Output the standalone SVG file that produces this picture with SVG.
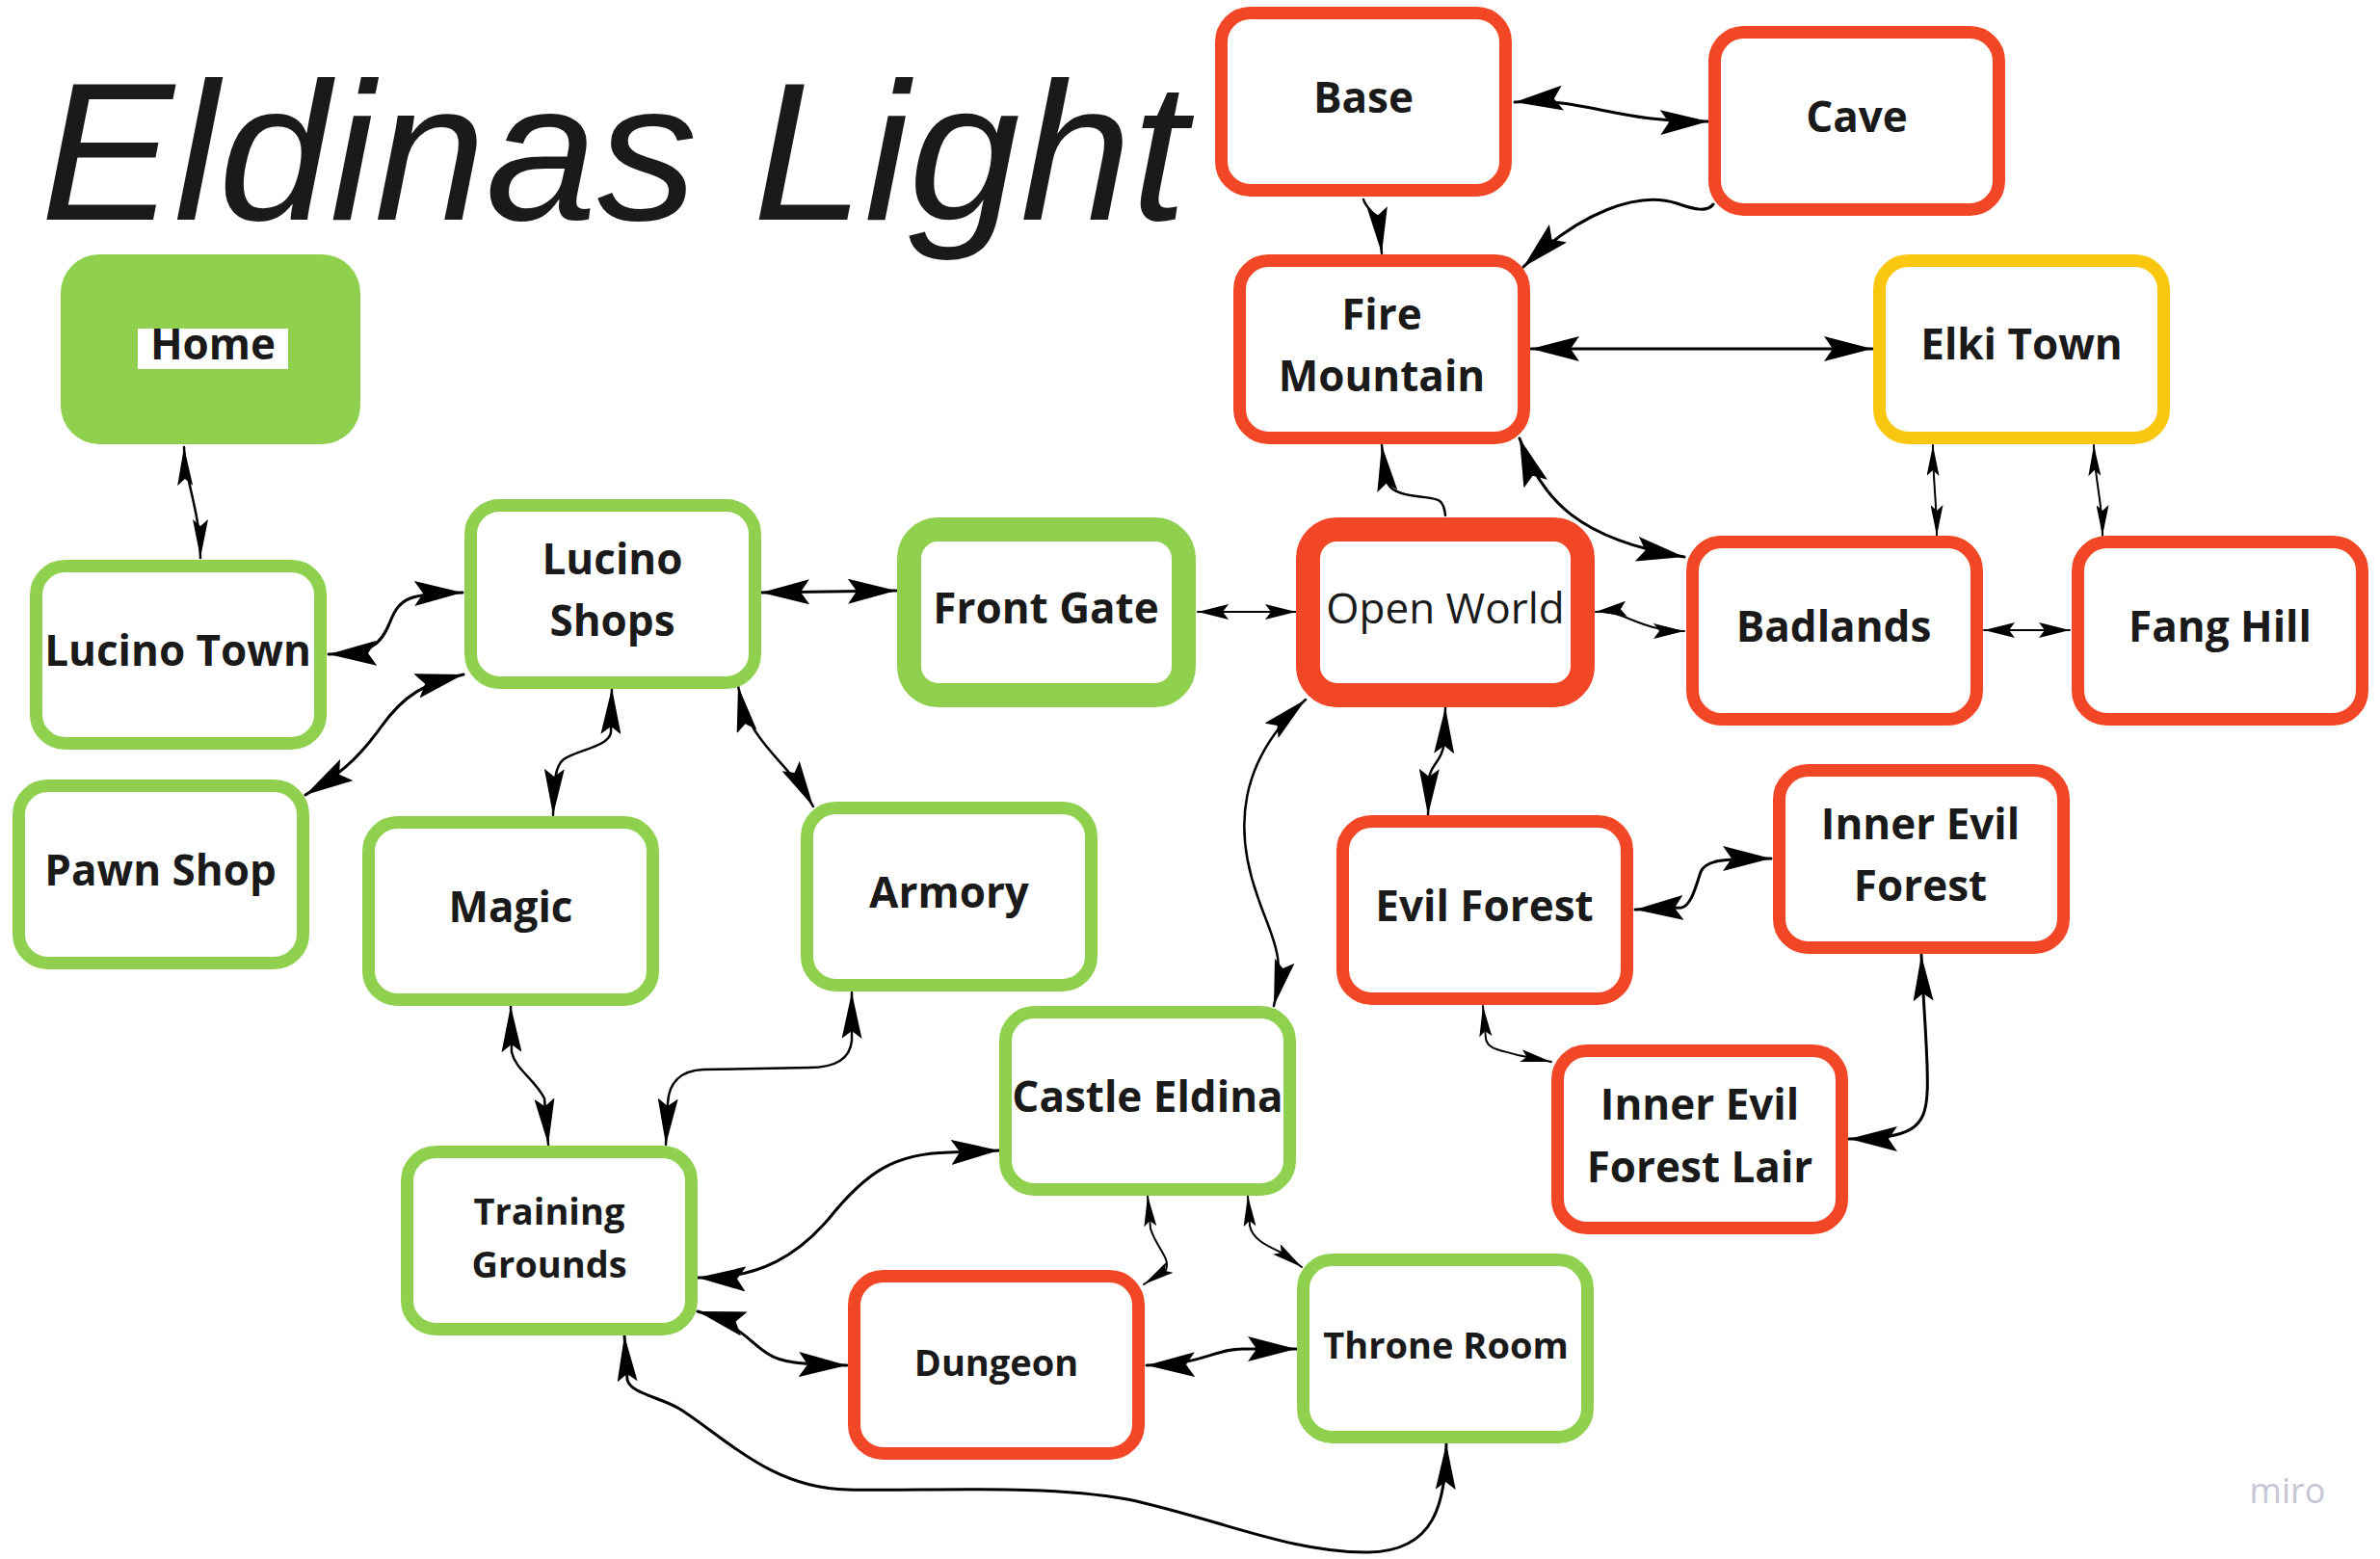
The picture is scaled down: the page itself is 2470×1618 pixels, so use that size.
<svg xmlns="http://www.w3.org/2000/svg" width="2470" height="1618" viewBox="0 0 2470 1618">
<style>
.n rect{fill:#fff;stroke-width:13}
.n.k rect{stroke-width:25}
.g rect{stroke:#8fd14f}
.r rect{stroke:#f24726}
.y rect{stroke:#fac710}
text.t{font-family:"Open Sans","Liberation Sans",sans-serif;font-weight:700;font-size:44px;fill:#1a1a1a;text-anchor:middle}
text.s{font-size:38px}
text.w{font-weight:400}
.c path{fill:none;stroke:#000;stroke-width:3;stroke-linecap:round;stroke-linejoin:round}
.c path.m{stroke-width:2.5}
.c path.f{stroke-width:2}
</style>
<defs>
<marker id="ab" viewBox="-50 -13 50 26" refX="0" refY="0" markerWidth="50" markerHeight="26" markerUnits="userSpaceOnUse" orient="auto-start-reverse"><path d="M0,0 L-50,-13 L-41,0 L-50,13 Z" fill="#000"/></marker>
<marker id="an" viewBox="-48 -10.5 48 21" refX="0" refY="0" markerWidth="48" markerHeight="21" markerUnits="userSpaceOnUse" orient="auto-start-reverse"><path d="M0,0 L-48,-10.5 L-40,0 L-48,10.5 Z" fill="#000"/></marker>
<marker id="an2" viewBox="-40 -8 40 16" refX="0" refY="0" markerWidth="40" markerHeight="16" markerUnits="userSpaceOnUse" orient="auto-start-reverse"><path d="M0,0 L-40,-8 L-33,0 L-40,8 Z" fill="#000"/></marker>
<marker id="am" viewBox="-32 -8 32 16" refX="0" refY="0" markerWidth="32" markerHeight="16" markerUnits="userSpaceOnUse" orient="auto-start-reverse"><path d="M0,0 L-32,-8 L-26,0 L-32,8 Z" fill="#000"/></marker>
<marker id="as" viewBox="-32 -6.5 32 13" refX="0" refY="0" markerWidth="32" markerHeight="13" markerUnits="userSpaceOnUse" orient="auto-start-reverse"><path d="M0,0 L-32,-6.5 L-26,0 L-32,6.5 Z" fill="#000"/></marker>
</defs>
<rect width="2470" height="1618" fill="#fff"/>
<text id="title" x="42" y="228" font-family="Liberation Sans, sans-serif" font-style="italic" font-size="205" textLength="1190" lengthAdjust="spacingAndGlyphs" fill="#1a1a1a">Eldinas Light</text>

<g id="connectors" class="c">
<path class="m" d="M191,464 C192,500 208,530 208,579" marker-start="url(#an2)" marker-end="url(#an2)"/>
<path d="M341,679 C385,678 395,670 405,645 C415,620 425,616 480,615" marker-start="url(#ab)" marker-end="url(#ab)"/>
<path d="M317,825 C350,805 370,790 395,755 C420,720 440,710 481,700" marker-start="url(#ab)" marker-end="url(#ab)"/>
<path d="M790,615 L930,613" marker-start="url(#ab)" marker-end="url(#ab)"/>
<path class="m" d="M635,714 L634,760 C632,775 600,778 585,788 C576,795 575,810 574,846" marker-start="url(#an)" marker-end="url(#an)"/>
<path class="m" d="M766,712 C778,775 815,785 844,837" marker-start="url(#an)" marker-end="url(#an)"/>
<path class="f" d="M1243,635 L1345,635" marker-start="url(#am)" marker-end="url(#am)"/>
<path class="m" d="M1500,535 C1498,515 1490,518 1470,515 C1445,512 1440,505 1438,495 L1434,462" marker-end="url(#an)"/>
<path d="M1577,455 C1600,520 1640,560 1748,578" marker-start="url(#ab)" marker-end="url(#ab)"/>
<path d="M1589,362 L1943,362" marker-start="url(#ab)" marker-end="url(#ab)"/>
<path class="m" d="M1415,207 C1418,218 1430,222 1431,232 L1434,263" marker-end="url(#an)"/>
<path d="M1572,106 C1640,100 1680,128 1773,126" marker-start="url(#ab)" marker-end="url(#ab)"/>
<path d="M1778,212 C1772,220 1760,218 1740,211 C1700,198 1640,220 1581,277" marker-end="url(#ab)"/>
<path class="f" d="M2006,462 C2006,500 2010,520 2010,556" marker-start="url(#as)" marker-end="url(#as)"/>
<path class="f" d="M2173,462 C2174,500 2182,520 2182,556" marker-start="url(#as)" marker-end="url(#as)"/>
<path class="f" d="M1656,635 C1685,632 1700,655 1748,655" marker-start="url(#am)" marker-end="url(#am)"/>
<path class="f" d="M2059,654 L2148,654" marker-start="url(#am)" marker-end="url(#am)"/>
<path class="m" d="M1500,734 L1499,770 C1497,790 1483,795 1483,810 L1482,846" marker-start="url(#an)" marker-end="url(#an)"/>
<path class="m" d="M1355,726 C1285,790 1280,860 1305,930 C1320,975 1335,990 1322,1044" marker-start="url(#an)" marker-end="url(#an)"/>
<path d="M1697,944 L1745,942 C1755,940 1760,920 1765,905 C1770,893 1785,891 1838,891" marker-start="url(#ab)" marker-end="url(#ab)"/>
<path class="f" d="M1539,1044 L1542,1078 C1544,1090 1560,1090 1575,1095 L1610,1102" marker-start="url(#as)" marker-end="url(#as)"/>
<path d="M1994,991 C1997,1060 2002,1110 2000,1135 C1998,1170 1985,1182 1919,1182" marker-start="url(#an)" marker-end="url(#ab)"/>
<path class="m" d="M530,1044 L531,1092 C535,1110 555,1120 565,1140 L569,1188" marker-start="url(#an)" marker-end="url(#an)"/>
<path class="m" d="M884,1030 L884,1080 C882,1100 865,1108 840,1108 L730,1110 C705,1111 694,1125 693,1145 L691,1188" marker-start="url(#an)" marker-end="url(#an)"/>
<path d="M724,1326 C790,1328 830,1300 860,1265 C900,1215 930,1197 985,1196 L1037,1194" marker-start="url(#ab)" marker-end="url(#ab)"/>
<path d="M724,1361 C765,1372 780,1395 797,1405 C810,1414 830,1416 879,1417" marker-start="url(#ab)" marker-end="url(#ab)"/>
<path class="f" d="M1191,1241 L1194,1275 C1200,1295 1215,1305 1210,1318 L1187,1333" marker-start="url(#as)" marker-end="url(#as)"/>
<path class="f" d="M1295,1241 L1297,1272 C1300,1288 1320,1295 1330,1300 L1351,1315" marker-start="url(#as)" marker-end="url(#as)"/>
<path d="M1190,1417 C1250,1416 1260,1400 1290,1400 L1345,1400" marker-start="url(#ab)" marker-end="url(#ab)"/>
<path d="M648,1386 L651,1432 C654,1446 685,1450 705,1462 C750,1490 800,1545 880,1546 C960,1548 1080,1540 1170,1556 C1260,1575 1340,1612 1420,1611 C1490,1610 1500,1560 1501,1498" marker-start="url(#an)" marker-end="url(#an)"/>
</g>

<g id="home"><rect x="63" y="264" width="311" height="197" rx="40" fill="#8fd14f"/><rect x="143" y="341" width="156" height="42" fill="#fff"/><text class="t" x="221" y="373">Home</text></g>
<g id="lucino-town" class="n g"><rect x="37.5" y="587.5" width="295" height="184" rx="30"/><text class="t" x="184.5" y="691">Lucino Town</text></g>
<g id="lucino-shops" class="n g"><rect x="488.5" y="524.5" width="295" height="184" rx="30"/><text class="t" x="635.5" y="596">Lucino</text><text class="t" x="635.5" y="660">Shops</text></g>
<g id="front-gate" class="n k g"><rect x="943.5" y="549.5" width="285" height="172" rx="30"/><text class="t" x="1085.5" y="647">Front Gate</text></g>
<g id="pawn-shop" class="n g"><rect x="19.5" y="815.5" width="295" height="184" rx="30"/><text class="t" x="166.5" y="919">Pawn Shop</text></g>
<g id="magic" class="n g"><rect x="382.5" y="853.5" width="295" height="184" rx="30"/><text class="t" x="530" y="957">Magic</text></g>
<g id="armory" class="n g"><rect x="837.5" y="838.5" width="295" height="184" rx="30"/><text class="t" x="985" y="942">Armory</text></g>
<g id="training-grounds" class="n g"><rect x="422.5" y="1195.5" width="295" height="184" rx="30"/><text class="t s" x="570" y="1271">Training</text><text class="t s" x="570" y="1326">Grounds</text></g>
<g id="castle-eldina" class="n g"><rect x="1043.5" y="1050.5" width="295" height="184" rx="30"/><text class="t" x="1191" y="1154">Castle Eldina</text></g>
<g id="dungeon" class="n r"><rect x="886.5" y="1324.5" width="295" height="184" rx="30"/><text class="t s" x="1034" y="1428">Dungeon</text></g>
<g id="throne-room" class="n g"><rect x="1352.5" y="1307.5" width="295" height="184" rx="30"/><text class="t s" x="1500.5" y="1410">Throne Room</text></g>
<g id="inner-evil-forest-lair" class="n r"><rect x="1616.5" y="1090.5" width="295" height="184" rx="30"/><text class="t" x="1764" y="1162">Inner Evil</text><text class="t" x="1764" y="1227">Forest Lair</text></g>
<g id="evil-forest" class="n r"><rect x="1393.5" y="852.5" width="295" height="184" rx="30"/><text class="t" x="1540.5" y="956">Evil Forest</text></g>
<g id="inner-evil-forest" class="n r"><rect x="1846.5" y="799.5" width="295" height="184" rx="30"/><text class="t" x="1993" y="871">Inner Evil</text><text class="t" x="1993" y="935">Forest</text></g>
<g id="open-world" class="n k r"><rect x="1357.5" y="549.5" width="285" height="172" rx="30"/><text class="t w" x="1500" y="647">Open World</text></g>
<g id="badlands" class="n r"><rect x="1756.5" y="562.5" width="295" height="184" rx="30"/><text class="t" x="1903" y="666">Badlands</text></g>
<g id="fang-hill" class="n r"><rect x="2156.5" y="562.5" width="295" height="184" rx="30"/><text class="t" x="2304" y="666">Fang Hill</text></g>
<g id="base" class="n r"><rect x="1267.5" y="13.5" width="295" height="184" rx="30"/><text class="t" x="1415" y="117">Base</text></g>
<g id="cave" class="n r"><rect x="1779.5" y="33.5" width="295" height="184" rx="30"/><text class="t" x="1927" y="137">Cave</text></g>
<g id="fire-mountain" class="n r"><rect x="1286.5" y="270.5" width="295" height="184" rx="30"/><text class="t" x="1434" y="342">Fire</text><text class="t" x="1434" y="406">Mountain</text></g>
<g id="elki-town" class="n y"><rect x="1950.5" y="270.5" width="295" height="184" rx="30"/><text class="t" x="2098" y="373">Elki Town</text></g>

<text x="2374" y="1560" font-family="Open Sans, sans-serif" font-size="36" fill="#c6c6d4" text-anchor="middle">miro</text>
</svg>
